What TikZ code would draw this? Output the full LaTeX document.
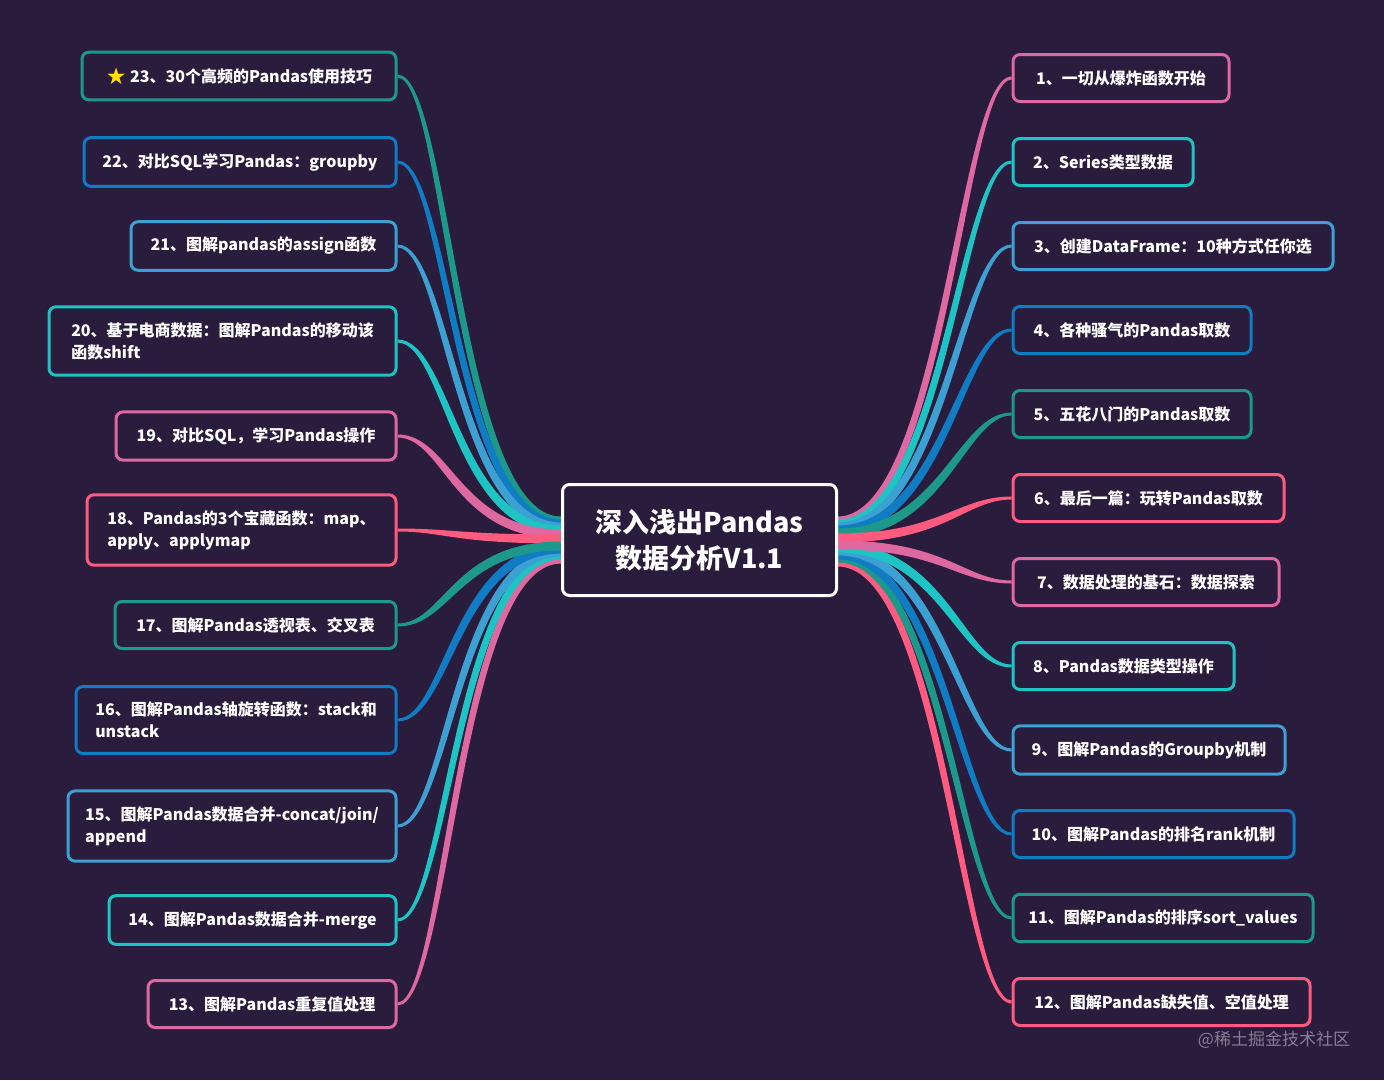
\documentclass[tikz,border=0pt]{standalone}
\usepackage{fontspec}
\setmainfont{Noto Sans CJK SC}
\newfontfamily\symf{DejaVu Sans}
\usetikzlibrary{calc}
\definecolor{bg}{RGB}{42,28,60}
\definecolor{cteal}{RGB}{29,153,139}
\definecolor{cblue}{RGB}{16,124,196}
\definecolor{clblue}{RGB}{60,160,210}
\definecolor{ccyan}{RGB}{30,196,196}
\definecolor{cpink}{RGB}{222,104,160}
\definecolor{ccoral}{RGB}{255,90,128}
\definecolor{staryellow}{RGB}{255,224,0}
\definecolor{wmark}{RGB}{135,125,150}
\pgfdeclarelayer{bgl}
\pgfdeclarelayer{rib}
\pgfsetlayers{bgl,rib,main}
\tikzset{
  box/.style={draw, rounded corners=7pt, line width=3pt, fill=bg, text=white,
    font=\fontsize{16}{22}\selectfont\bfseries, align=left,
    minimum height=47pt, inner ysep=15.5pt, inner xsep=8pt},
  lbox/.style={box, anchor=east},
  rbox/.style={box, anchor=west},
  centerbox/.style={draw=white, line width=3pt, rounded corners=7pt, fill=bg, text=white,
    minimum width=274pt, minimum height=111pt,
    font=\fontsize{27}{36}\selectfont\bfseries, align=center}
}
% #1 centre end, #2 node end, #3 colour, #4 side (-1 left, 1 right), #5 bend offset
\newcommand\ribbon[5]{%
  \fill[#3] let \p1=(#1), \p2=(#2) in
  (\x1,{\y1-4.5}) .. controls ({\x1+(#4)*105+(#5)},{\y1-4.5}) and ({\x2-(#4)*50+(#5)},{\y2-1.5}) .. (\x2,{\y2-1.5})
  -- (\x2,{\y2+1.5}) .. controls ({\x2-(#4)*50-(#5)},{\y2+1.5}) and ({\x1+(#4)*105-(#5)},{\y1+4.5}) .. (\x1,{\y1+4.5}) -- cycle;}
\newcommand\starmark{\raisebox{-1.5pt}{\fontsize{23}{23}\selectfont\symf\color{staryellow}★}}
\begin{document}
\begin{tikzpicture}[x=1pt,y=-1pt]
\begin{pgfonlayer}{bgl}
\fill[bg] (0,0) rectangle (1384,1080);
\end{pgfonlayer}
\useasboundingbox (0,0) rectangle (1384,1080);

\node[centerbox] (c) at (699.5,540) {深入浅出Pandas\\数据分析V1.1};

% left nodes
\node[lbox, draw=cteal,  minimum width=314pt] (n23) at (397.5,76)  {\starmark\ 23、30个高频的Pandas使用技巧};
\node[lbox, draw=cblue,  minimum width=312pt] (n22) at (397.5,162) {22、对比SQL学习Pandas：groupby};
\node[lbox, draw=clblue, minimum width=265pt] (n21) at (397.5,246) {21、图解pandas的assign函数};
\node[lbox, draw=ccyan,  minimum width=347pt] (n20) at (397.5,341) {20、基于电商数据：图解Pandas的移动该\\函数shift};
\node[lbox, draw=cpink,  minimum width=280pt] (n19) at (397.5,436) {19、对比SQL，学习Pandas操作};
\node[lbox, draw=ccoral, minimum width=309pt] (n18) at (397.5,530) {18、Pandas的3个宝藏函数：map、\\apply、applymap};
\node[lbox, draw=cteal,  minimum width=281pt] (n17) at (397.5,625) {17、图解Pandas透视表、交叉表};
\node[lbox, draw=cblue,  minimum width=320pt] (n16) at (397.5,720) {16、图解Pandas轴旋转函数：stack和\\unstack};
\node[lbox, draw=clblue, minimum width=328pt] (n15) at (397.5,826) {15、图解Pandas数据合并-concat/join/\\append};
\node[lbox, draw=ccyan,  minimum width=287pt] (n14) at (397.5,920) {14、图解Pandas数据合并-merge};
\node[lbox, draw=cpink,  minimum width=248pt] (n13) at (397.5,1004) {13、图解Pandas重复值处理};

% right nodes
\node[rbox, draw=cpink,  minimum width=216pt] (n1)  at (1011.5,78)  {1、一切从爆炸函数开始};
\node[rbox, draw=ccyan,  minimum width=180pt] (n2)  at (1011.5,162) {2、Series类型数据};
\node[rbox, draw=clblue, minimum width=320pt] (n3)  at (1011.5,246) {3、创建DataFrame：10种方式任你选};
\node[rbox, draw=cblue,  minimum width=238pt] (n4)  at (1011.5,330) {4、各种骚气的Pandas取数};
\node[rbox, draw=cteal,  minimum width=238pt] (n5)  at (1011.5,414) {5、五花八门的Pandas取数};
\node[rbox, draw=ccoral, minimum width=271pt] (n6)  at (1011.5,498) {6、最后一篇：玩转Pandas取数};
\node[rbox, draw=cpink,  minimum width=266pt] (n7)  at (1011.5,582) {7、数据处理的基石：数据探索};
\node[rbox, draw=ccyan,  minimum width=221pt] (n8)  at (1011.5,666) {8、Pandas数据类型操作};
\node[rbox, draw=clblue, minimum width=272pt] (n9)  at (1011.5,750) {9、图解Pandas的Groupby机制};
\node[rbox, draw=cblue,  minimum width=281pt] (n10) at (1011.5,834) {10、图解Pandas的排名rank机制};
\node[rbox, draw=cteal,  minimum width=300pt] (n11) at (1011.5,918) {11、图解Pandas的排序sort\_values};
\node[rbox, draw=ccoral, minimum width=297pt] (n12) at (1011.5,1002) {12、图解Pandas缺失值、空值处理};

\node[text=wmark, font=\fontsize{17}{20}\selectfont] (wm) at (1274,1040) {@稀土掘金技术社区};

% centre ends of connectors
\coordinate (l23) at ($(c.west)+(0,-19)$);
\coordinate (l22) at ($(c.west)+(0,-16)$);
\coordinate (l21) at ($(c.west)+(0,-13)$);
\coordinate (l20) at ($(c.west)+(0,-10)$);
\coordinate (l19) at ($(c.west)+(0,-6)$);
\coordinate (l18) at ($(c.west)+(0,-1)$);
\coordinate (l17) at ($(c.west)+(0,6)$);
\coordinate (l16) at ($(c.west)+(0,9)$);
\coordinate (l15) at ($(c.west)+(0,12)$);
\coordinate (l14) at ($(c.west)+(0,15)$);
\coordinate (l13) at ($(c.west)+(0,19)$);
\coordinate (r1)  at ($(c.east)+(0,-19)$);
\coordinate (r2)  at ($(c.east)+(0,-16)$);
\coordinate (r3)  at ($(c.east)+(0,-13)$);
\coordinate (r4)  at ($(c.east)+(0,-10)$);
\coordinate (r5)  at ($(c.east)+(0,-7)$);
\coordinate (r6)  at ($(c.east)+(0,-2)$);
\coordinate (r7)  at ($(c.east)+(0,5)$);
\coordinate (r8)  at ($(c.east)+(0,8)$);
\coordinate (r9)  at ($(c.east)+(0,11)$);
\coordinate (r10) at ($(c.east)+(0,15)$);
\coordinate (r11) at ($(c.east)+(0,18)$);
\coordinate (r12) at ($(c.east)+(0,22)$);

\begin{pgfonlayer}{rib}
\ribbon{l23}{n23.east}{cteal}{-1}{-3.5}
\ribbon{l22}{n22.east}{cblue}{-1}{-3.5}
\ribbon{l21}{n21.east}{clblue}{-1}{-3.5}
\ribbon{l20}{n20.east}{ccyan}{-1}{-3.5}
\ribbon{l19}{n19.east}{cpink}{-1}{-3.5}
\ribbon{l18}{n18.east}{ccoral}{-1}{-3.5}
\ribbon{l13}{n13.east}{cpink}{-1}{3.5}
\ribbon{l14}{n14.east}{ccyan}{-1}{3.5}
\ribbon{l15}{n15.east}{clblue}{-1}{3.5}
\ribbon{l16}{n16.east}{cblue}{-1}{3.5}
\ribbon{l17}{n17.east}{cteal}{-1}{3.5}
\ribbon{r1}{n1.west}{cpink}{1}{3.5}
\ribbon{r2}{n2.west}{ccyan}{1}{3.5}
\ribbon{r3}{n3.west}{clblue}{1}{3.5}
\ribbon{r4}{n4.west}{cblue}{1}{3.5}
\ribbon{r5}{n5.west}{cteal}{1}{3.5}
\ribbon{r6}{n6.west}{ccoral}{1}{3.5}
\ribbon{r12}{n12.west}{ccoral}{1}{-3.5}
\ribbon{r11}{n11.west}{cteal}{1}{-3.5}
\ribbon{r10}{n10.west}{cblue}{1}{-3.5}
\ribbon{r9}{n9.west}{clblue}{1}{-3.5}
\ribbon{r8}{n8.west}{ccyan}{1}{-3.5}
\ribbon{r7}{n7.west}{cpink}{1}{-3.5}
\end{pgfonlayer}
\end{tikzpicture}
\end{document}
